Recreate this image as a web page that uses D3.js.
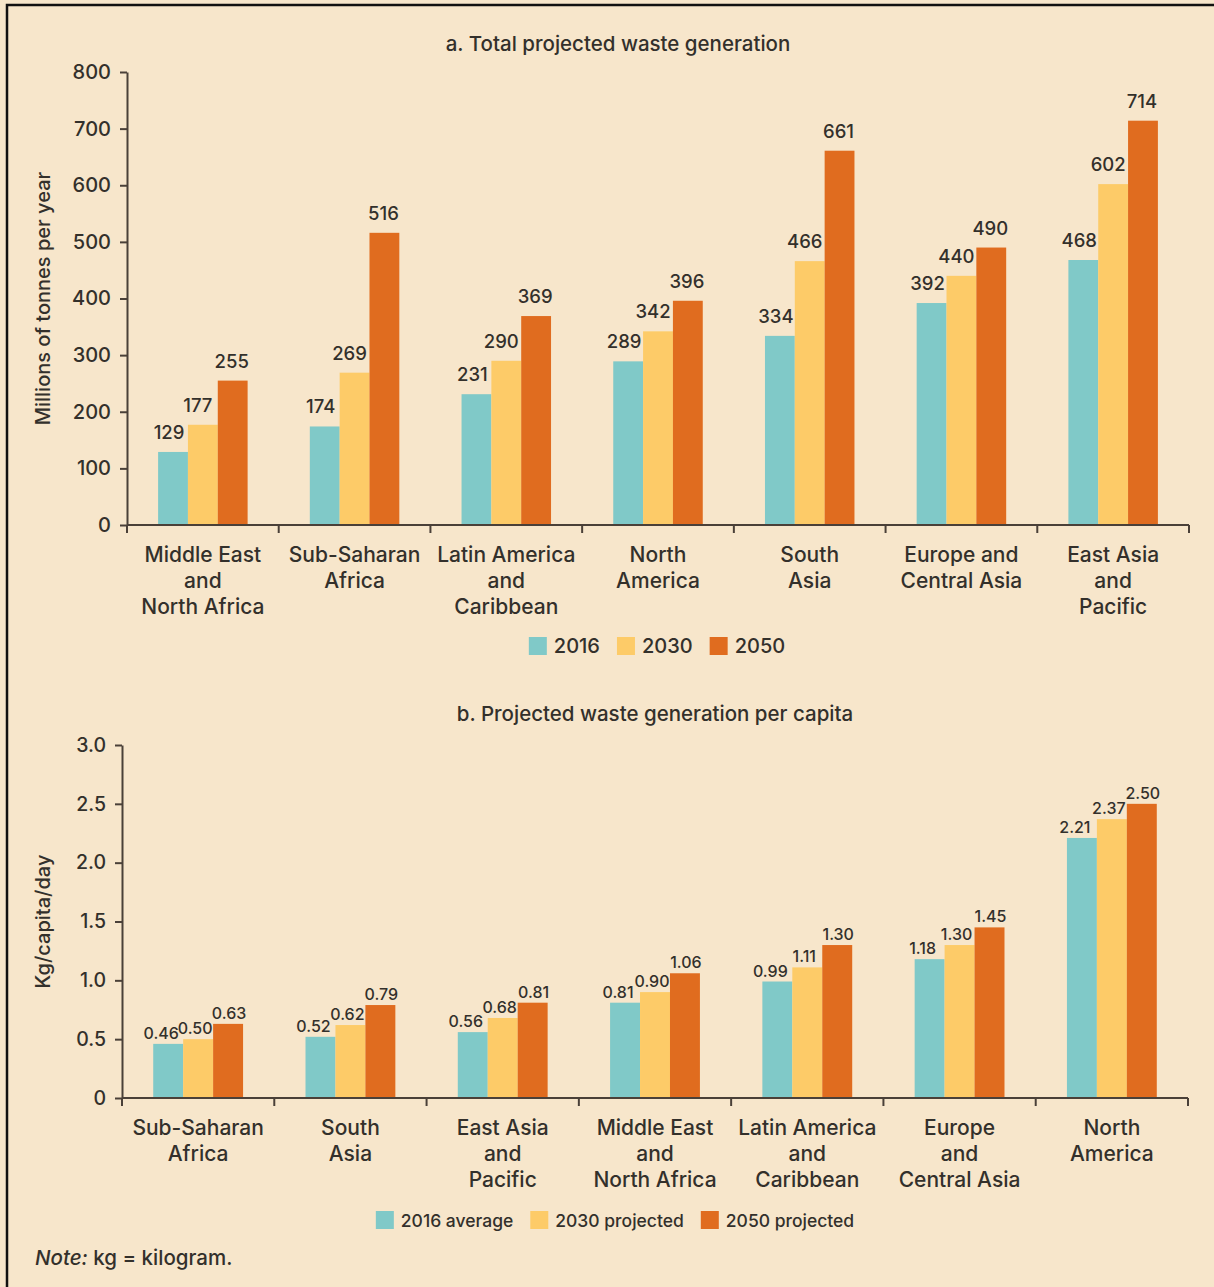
<!DOCTYPE html>
<html>
<head>
<meta charset="utf-8">
<script src="https://cdn.jsdelivr.net/npm/d3@7"></script>
<style>
  html, body { margin: 0; padding: 0; background: #f7e6cb; }
  svg { display: block; }
  text { font-family: Inter, "Noto Sans", sans-serif; fill: #33302b; font-weight: 500; }
</style>
</head>
<body>
<svg id="chart" width="1214" height="1287"></svg>
<script>
// ---------- Data ----------
const regionsA = ["Middle East\nand\nNorth Africa", "Sub-Saharan\nAfrica", "Latin America\nand\nCaribbean", "North\nAmerica", "South\nAsia", "Europe and\nCentral Asia", "East Asia\nand\nPacific"];
const seriesA = ["2016", "2030", "2050"];
const total2016 = [129, 174, 231, 289, 334, 392, 468];
const total2030 = [177, 269, 290, 342, 466, 440, 602];
const total2050 = [255, 516, 369, 396, 661, 490, 714];
const ticksA = [0, 100, 200, 300, 400, 500, 600, 700, 800];

const regionsB = ["Sub-Saharan\nAfrica", "South\nAsia", "East Asia\nand\nPacific", "Middle East\nand\nNorth Africa", "Latin America\nand\nCaribbean", "Europe\nand\nCentral Asia", "North\nAmerica"];
const seriesB = ["2016 average", "2030 projected", "2050 projected"];
const capita2016 = [0.46, 0.52, 0.56, 0.81, 0.99, 1.18, 2.21];
const capita2030 = [0.50, 0.62, 0.68, 0.90, 1.11, 1.30, 2.37];
const capita2050 = [0.63, 0.79, 0.81, 1.06, 1.30, 1.45, 2.50];
const ticksB = [0, 0.5, 1.0, 1.5, 2.0, 2.5, 3.0];
const tickLabelsB = ["0", "0.5", "1.0", "1.5", "2.0", "2.5", "3.0"];

const colors = ["#80c9c8", "#fdcb68", "#e06c1f"];
const axisColor = "#4a4038";

const svg = d3.select("#chart");

// frame
svg.append("rect").attr("x", 7).attr("y", 5).attr("width", 1230).attr("height", 1300)
  .attr("fill", "#f7e6cb").attr("stroke", "#111").attr("stroke-width", 2.5);

function drawPanel(opts) {
  const { cats, series, valuesList, ticks, tickLabels, x0px, x1px, yTop, yBottom, title, titleX, titleY, yTitle,
          labelFmt, labelSize, labelDx, labelGap, legendX, legendY, legendItems, legendSize, tickFontSize } = opts;
  const g = svg.append("g");
  const y = d3.scaleLinear().domain([ticks[0], ticks[ticks.length - 1]]).range([yBottom, yTop]);
  const x0 = d3.scaleBand().domain(d3.range(cats.length)).range([x0px, x1px]).paddingInner(0).paddingOuter(0);
  const bw = x0.bandwidth();
  const x1 = d3.scaleBand().domain(d3.range(series.length)).range([bw * 0.205, bw * 0.795]).padding(0);

  // title
  g.append("text").attr("x", titleX).attr("y", titleY).attr("text-anchor", "middle")
    .style("font-size", "20.5px").text(title);

  // y axis
  const yAxis = d3.axisLeft(y).tickValues(ticks).tickSize(7).tickSizeOuter(0)
    .tickFormat((d, i) => tickLabels ? tickLabels[i] : d);
  const ya = g.append("g").attr("transform", `translate(${x0px},0)`).call(yAxis);
  ya.selectAll("path,line").attr("stroke", axisColor).attr("stroke-width", 2);
  ya.selectAll("text").style("font-size", tickFontSize).attr("x", -16).attr("fill", "#33302b")
    .style("font-family", 'Inter, "Noto Sans", sans-serif').style("font-weight", 500);

  // y title
  g.append("text").attr("transform", `translate(50,${(yTop + yBottom) / 2}) rotate(-90)`)
    .attr("text-anchor", "middle").style("font-size", "20px").text(yTitle);

  // bars
  series.forEach((s, si) => {
    const vals = valuesList[si];
    g.selectAll(null).data(vals).enter().append("rect")
      .attr("x", (d, i) => x0(i) + x1(si))
      .attr("y", d => y(d))
      .attr("width", x1.bandwidth())
      .attr("height", d => y(0) - y(d))
      .attr("fill", colors[si]);
    g.selectAll(null).data(vals).enter().append("text")
      .attr("x", (d, i) => x0(i) + x1(si) + x1.bandwidth() / 2 + labelDx[si])
      .attr("y", d => y(d) - labelGap)
      .attr("text-anchor", "middle")
      .style("font-size", labelSize)
      .text(d => labelFmt(d));
  });

  // x axis line and boundary ticks
  g.append("line").attr("x1", x0px).attr("x2", x1px).attr("y1", y(0)).attr("y2", y(0))
    .attr("stroke", axisColor).attr("stroke-width", 2);
  const bounds = d3.range(cats.length).map(i => x0(i)).concat([x0(cats.length - 1) + bw]);
  g.selectAll(null).data(bounds).enter().append("line")
    .attr("x1", d => d).attr("x2", d => d).attr("y1", y(0)).attr("y2", y(0) + 8)
    .attr("stroke", axisColor).attr("stroke-width", 2);

  // category labels
  cats.forEach((c, i) => {
    const t = g.append("text").attr("text-anchor", "middle").style("font-size", "21px");
    c.split("\n").forEach((line, li) => {
      t.append("tspan").attr("x", x0(i) + bw / 2).attr("y", y(0) + 37 + li * 26).text(line);
    });
  });

  // legend
  const lg = g.append("g");
  let cx = 0;
  legendItems.forEach((name, i) => {
    const it = lg.append("g").attr("transform", `translate(${cx},0)`);
    it.append("rect").attr("x", 0).attr("y", -9).attr("width", 18).attr("height", 18).attr("fill", colors[i]);
    const tx = it.append("text").attr("x", 25).attr("y", 7).style("font-size", legendSize).text(name);
    const w = tx.node().getComputedTextLength();
    cx += 25 + w + 17;
  });
  const totalW = cx - 17;
  lg.attr("transform", `translate(${legendX - totalW / 2},${legendY})`);
}

drawPanel({
  cats: regionsA, series: seriesA, valuesList: [total2016, total2030, total2050],
  ticks: ticksA, tickLabels: null, x0px: 127, x1px: 1189, yTop: 72, yBottom: 525,
  title: "a. Total projected waste generation", titleX: 618, titleY: 51,
  yTitle: "Millions of tonnes per year", labelFmt: d => d, labelSize: "18.5px",
  labelDx: [-4, -5, -1], labelGap: 13, legendX: 657, legendY: 646, legendItems: seriesA, legendSize: "20px",
  tickFontSize: "20px"
});

drawPanel({
  cats: regionsB, series: seriesB, valuesList: [capita2016, capita2030, capita2050],
  ticks: ticksB, tickLabels: tickLabelsB, x0px: 122, x1px: 1188, yTop: 745, yBottom: 1098,
  title: "b. Projected waste generation per capita", titleX: 655, titleY: 721,
  yTitle: "Kg/capita/day", labelFmt: d => d.toFixed(2), labelSize: "16px",
  labelDx: [-7, -3, 1], labelGap: 5, legendX: 615, legendY: 1220, legendItems: seriesB, legendSize: "17.5px",
  tickFontSize: "19.5px"
});

// note
const note = svg.append("text").attr("x", 35).attr("y", 1265).style("font-size", "20.5px");
note.append("tspan").style("font-style", "italic").text("Note:");
note.append("tspan").text(" kg = kilogram.");
</script>
</body>
</html>
